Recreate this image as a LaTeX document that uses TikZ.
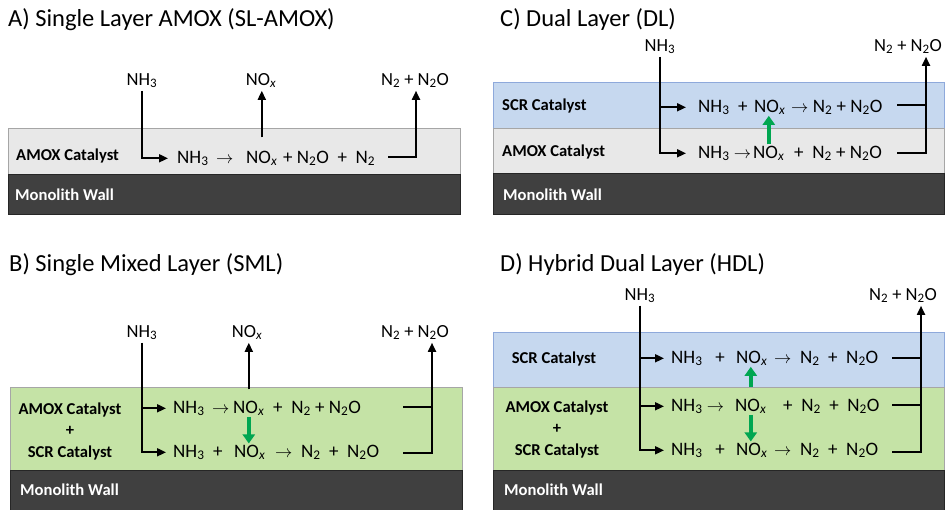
\documentclass[tikz,border=0pt]{standalone}
\usepackage{fontspec}
\setmainfont{Carlito}
\usepackage{xcolor}
\usepackage{tikz}
\usetikzlibrary{arrows.meta,positioning}
\definecolor{amGray}{HTML}{E8E8E8}
\definecolor{amEdge}{HTML}{A6A6A6}
\definecolor{amBlue}{HTML}{C6D8EF}
\definecolor{amBlueEdge}{HTML}{8EA9DB}
\definecolor{amGreenFill}{HTML}{C5E3A6}
\definecolor{amWall}{HTML}{404040}
\definecolor{amWallEdge}{HTML}{262626}
\definecolor{amGreen}{HTML}{00A651}
\newcommand{\chsub}[1]{\textsubscript{#1}}
\newcommand{\nox}{NO\chsub{\textit{x}}}
\tikzset{
  am diagram/.style={x=1pt, y=-1pt},
  am title/.style={anchor=base west, inner sep=0pt,
    font=\fontsize{24.5}{28}\selectfont},
  am layer/.style={draw=amEdge, line width=0.8pt},
  am wall/.style={fill=amWall, draw=amWallEdge, line width=0.8pt},
  am label/.style={anchor=base west, inner sep=0pt,
    font=\bfseries\fontsize{16.6}{21.5}\selectfont},
  am wall label/.style={am label, text=white},
  am rx/.style={anchor=base west, inner sep=1pt,
    font=\fontsize{19}{22}\selectfont},
  am gas/.style={anchor=base, inner sep=3pt,
    font=\fontsize{18.5}{22}\selectfont},
  am line/.style={line width=1.8pt},
  am arrow/.style={am line, -{Triangle[length=9pt,width=8pt]}},
  am shift/.style={draw=amGreen, line width=3.5pt,
    -{Triangle[length=9pt,width=12pt]}}
}
\begin{document}
\begin{tikzpicture}[am diagram]
\useasboundingbox (0,0) rectangle (949,509);
% A) single layer
\node[am title] (tA) at (8,26) {A) Single Layer AMOX (SL-AMOX)};
\draw[am layer, fill=amGray] (8,128) rectangle (460,174);
\draw[am wall] (8,174) rectangle (460,214);
\node[am label] (catA) at (16,160) {AMOX Catalyst};
\node[am wall label] (wallA) at (15,200) {Monolith Wall};
\node[am gas] (nhA) at (142,85) {NH\chsub3};
\node[am gas] (noA) at (261,85) {\nox};
\node[am gas] (prA) at (415,85) {N\chsub2 + N\chsub2O};
\node[am rx] (rxA) at (176,163) {NH\chsub3 \,$\rightarrow$};
\node[am rx] (rxAn) at (245,163) {\nox};
\node[am rx] (rxAr) at (282,163) {+ N\chsub2O \ + \ N\chsub2};
\coordinate (oA) at (388,157);
\coordinate (jA) at (416,157);
\draw[am arrow] (nhA.south) |- ([xshift=-8pt]rxA.west);
\draw[am arrow] ([yshift=12pt]rxAn.north) -- (rxAn.north |- noA.south);
\draw[am arrow] (oA) -- (jA) -- (jA |- prA.south);
% B) single mixed layer
\node[am title] (tB) at (9,271) {B) Single Mixed Layer (SML)};
\draw[am layer, fill=amGreenFill] (10,387) rectangle (462,470);
\draw[am wall] (10,470) rectangle (462,512);
\node[am label, anchor=center, align=center] (catB) at (70,431)
  {AMOX Catalyst\\+\\SCR Catalyst};
\node[am wall label] (wallB) at (20,495) {Monolith Wall};
\node[am gas] (nhB) at (142,337) {NH\chsub3};
\node[am gas] (noB) at (247,337) {\nox};
\node[am gas] (prB) at (415,337) {N\chsub2 + N\chsub2O};
\node[am rx] (rxB1) at (172,413) {NH\chsub3 \,$\rightarrow$};
\node[am rx] (rxB1n) at (232,413) {\nox};
\node[am rx] (rxB1r) at (272,413) {+ \ N\chsub2 + N\chsub2O};
\node[am rx] (rxB2) at (172,457) {NH\chsub3 \ +};
\node[am rx] (rxB2n) at (233,457) {\nox};
\node[am rx] (rxB2r) at (274,457) {$\rightarrow$ \ N\chsub2 \ + \ N\chsub2O};
\coordinate (oB1) at (403,407);
\coordinate (oB2) at (403,453);
\coordinate (jB) at (432,453);
\draw[am arrow] (nhB.south) |- ([xshift=-6pt]rxB1.west);
\draw[am arrow] (nhB.south) |- ([xshift=-6pt]rxB2.west);
\draw[am arrow] ([yshift=10pt]rxB1n.north) -- (rxB1n.north |- noB.south);
\draw[am shift] (rxB1n.south) -- (rxB1n.south |- rxB2n.north);
\draw[am line] (oB1) -- (oB1 -| jB);
\draw[am arrow] (oB2) -- (jB) -- (jB |- prB.south);
% C) dual layer
\node[am title] (tC) at (500,26) {C) Dual Layer (DL)};
\draw[draw=amBlueEdge, line width=0.8pt, fill=amBlue] (493,82) rectangle (944,128);
\draw[am layer, fill=amGray] (493,128) rectangle (944,173);
\draw[am wall] (493,173) rectangle (944,214);
\node[am label] (catC1) at (502,110) {SCR Catalyst};
\node[am label] (catC2) at (502,156) {AMOX Catalyst};
\node[am wall label] (wallC) at (503,200) {Monolith Wall};
\node[am gas] (nhC) at (660,51) {NH\chsub3};
\node[am gas] (prC) at (908,51) {N\chsub2 + N\chsub2O};
\node[am rx] (rxC1) at (697,112) {NH\chsub3 \ +};
\node[am rx] (rxC1n) at (753,112) {\nox};
\node[am rx] (rxC1r) at (790,112) {$\rightarrow$ N\chsub2 + N\chsub2O};
\node[am rx] (rxC2) at (697,158) {NH\chsub3 $\rightarrow$};
\node[am rx] (rxC2n) at (752,158) {\nox};
\node[am rx] (rxC2r) at (793,158) {+ \ N\chsub2 + N\chsub2O};
\coordinate (oC1) at (897,105);
\coordinate (oC2) at (897,153);
\coordinate (jC) at (926,153);
\draw[am arrow] (nhC.south) |- ([xshift=-11pt]rxC1.west);
\draw[am arrow] (nhC.south) |- ([xshift=-11pt]rxC2.west);
\draw[am shift] (rxC2n.north) -- (rxC2n.north |- rxC1n.south);
\draw[am line] (oC1) -- (oC1 -| jC);
\draw[am arrow] (oC2) -- (jC) -- (jC |- prC.south);
% D) hybrid dual layer
\node[am title] (tD) at (500,271) {D) Hybrid Dual Layer (HDL)};
\draw[draw=amBlueEdge, line width=0.8pt, fill=amBlue] (493,332) rectangle (944,387);
\draw[am layer, fill=amGreenFill] (493,387) rectangle (944,470);
\draw[am wall] (493,470) rectangle (944,512);
\node[am label, anchor=base] (catD1) at (554,363) {SCR Catalyst};
\node[am label, anchor=center, align=center] (catD2) at (557,429)
  {AMOX Catalyst\\+\\SCR Catalyst};
\node[am wall label] (wallD) at (504,495) {Monolith Wall};
\node[am gas] (nhD) at (640,300) {NH\chsub3};
\node[am gas] (prD) at (903,300) {N\chsub2 + N\chsub2O};
\node[am rx] (rxD1) at (670,363) {NH\chsub3 \ \ +};
\node[am rx] (rxD1n) at (735,363) {\nox};
\node[am rx] (rxD1r) at (773,363) {$\rightarrow$ \ N\chsub2 \ + \ N\chsub2O};
\node[am rx] (rxD2) at (670,411) {NH\chsub3 $\rightarrow$};
\node[am rx] (rxD2n) at (734,411) {\nox};
\node[am rx] (rxD2r) at (782,411) {+ \ N\chsub2 \ + \ N\chsub2O};
\node[am rx] (rxD3) at (670,455) {NH\chsub3 \ \ +};
\node[am rx] (rxD3n) at (735,455) {\nox};
\node[am rx] (rxD3r) at (773,455) {$\rightarrow$ \ N\chsub2 \ + \ N\chsub2O};
\coordinate (oD1) at (892,358);
\coordinate (oD2) at (892,405);
\coordinate (oD3) at (892,452);
\coordinate (jD) at (921,452);
\draw[am arrow] (nhD.south) |- ([xshift=-6pt]rxD1.west);
\draw[am arrow] (nhD.south) |- ([xshift=-6pt]rxD2.west);
\draw[am arrow] (nhD.south) |- ([xshift=-6pt]rxD3.west);
\draw[am shift] ([yshift=10pt]rxD2n.north) -- (rxD2n.north |- rxD1n.south);
\draw[am shift] (rxD2n.south) -- (rxD2n.south |- rxD3n.north);
\draw[am line] (oD1) -- (oD1 -| jD);
\draw[am line] (oD2) -- (oD2 -| jD);
\draw[am arrow] (oD3) -- (jD) -- (jD |- prD.south);
\end{tikzpicture}
\end{document}
